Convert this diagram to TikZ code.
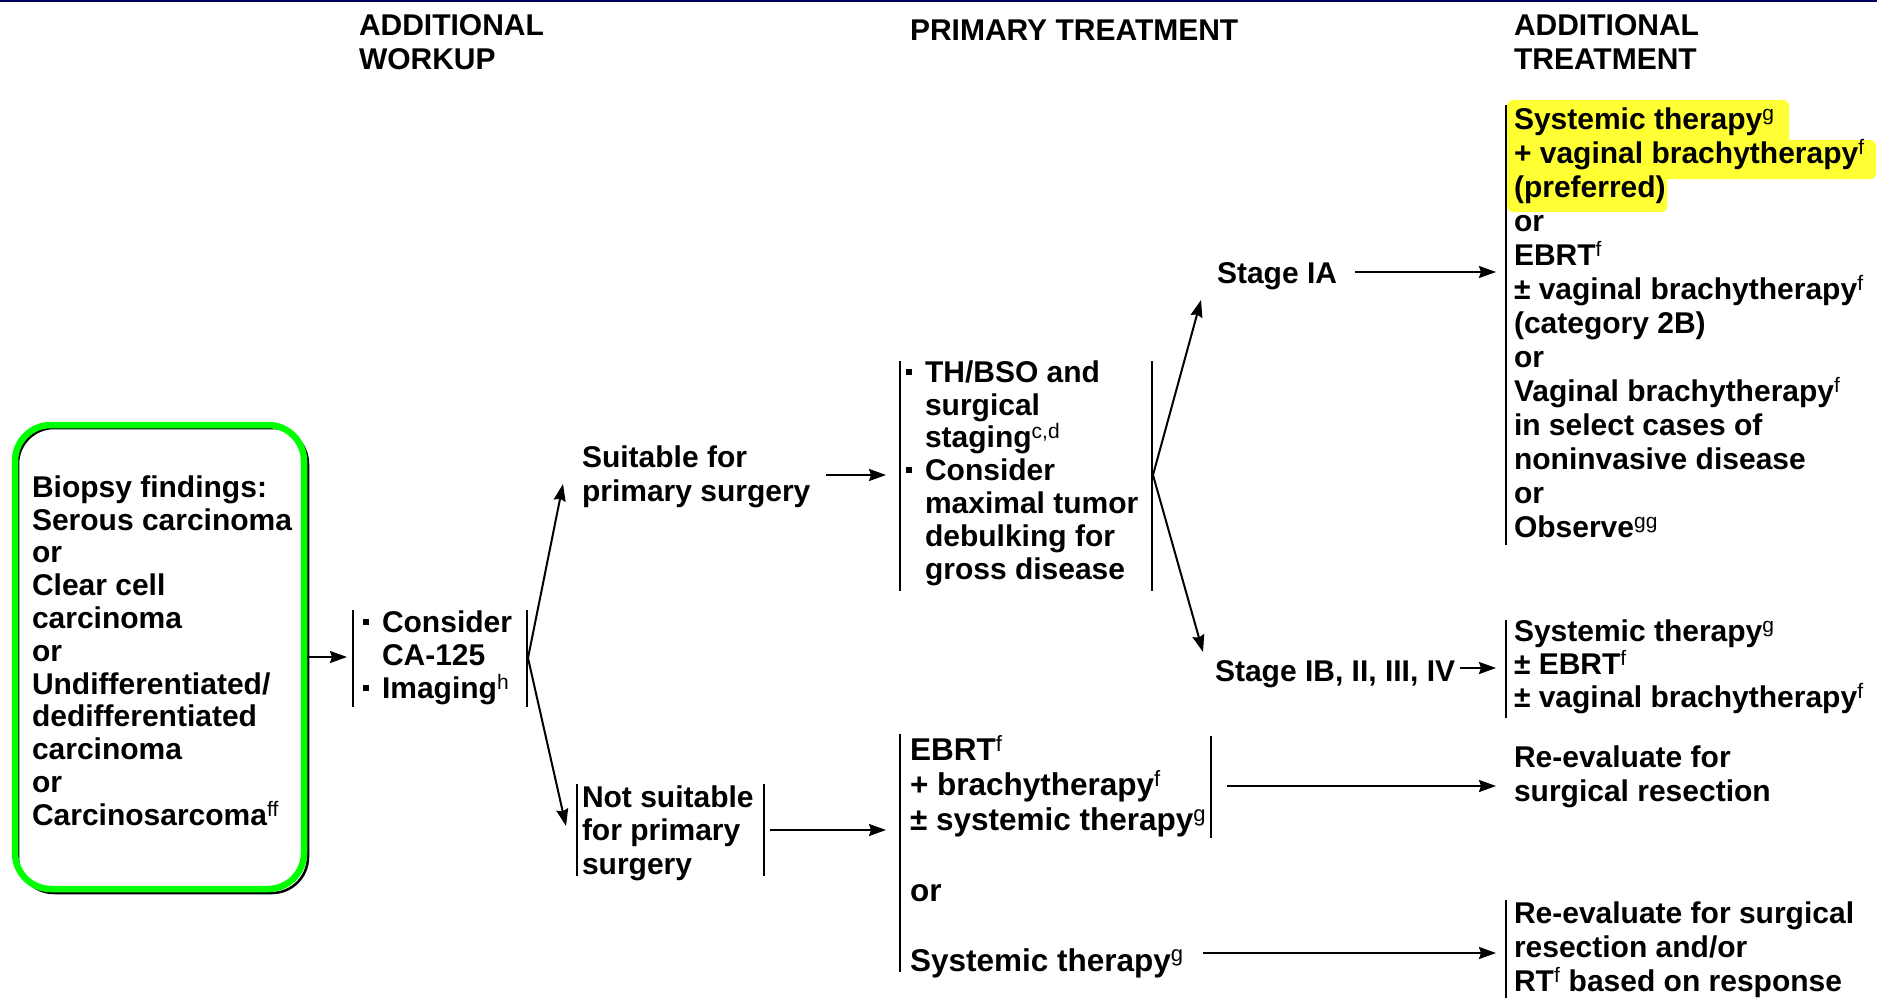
\documentclass[tikz,border=0pt]{standalone}
\usepackage{fontspec}
\setmainfont{Liberation Sans}
\usetikzlibrary{arrows.meta}

\definecolor{topnavy}{RGB}{0,0,96}
\definecolor{boxgreen}{RGB}{0,255,0}
\definecolor{hlyellow}{RGB}{255,255,51}

% square bullet and hanging indent for bulleted lists
\newcommand{\sqb}{\makebox[20pt][l]{\hspace{1pt}\raisebox{7.5pt}{\rule{6pt}{6pt}}}}
\newcommand{\hang}{\makebox[20pt]{}}
\newcommand{\sps}[1]{\textsuperscript{\mdseries #1}}

\tikzset{
  lead/.style={font=\fontsize{30}{#1}\selectfont\bfseries},
  txt/.style={anchor=north west, inner sep=0pt, outer sep=0pt, align=left,
              lead=32.8, execute at begin node=\rule{0pt}{26pt}},
  bigtxt/.style={txt, font=\fontsize{31.5}{35}\selectfont\bfseries,
              execute at begin node=\rule{0pt}{27pt}},
  bar/.style={line width=2pt},
  arr/.style={line width=2pt, -{Stealth[length=17pt,width=12pt,inset=2pt]}},
}

\begin{document}
\begin{tikzpicture}[x=1pt,y=-1pt]
\useasboundingbox (0,0) rectangle (1877,998);
\fill[white] (0,0) rectangle (1877,998);
\draw[topnavy, line width=3pt] (0,1) -- (1877,1);

% column headings
\node[txt, lead=34] (hW) at (359,15) {ADDITIONAL\\WORKUP};
\node[txt] (hP) at (910,15) {PRIMARY TREATMENT};
\node[txt, lead=34] (hT) at (1514,15) {ADDITIONAL\\TREATMENT};

% biopsy findings box
\draw[black, line width=2.5pt, rounded corners=36pt] (18,428) rectangle (308,893);
\node[draw=boxgreen, line width=6.5pt, rounded corners=36pt, inner sep=0pt,
      minimum width=289pt, minimum height=464pt] (biobox) at (159.5,657) {};
\node[txt] (biopsy) at (32,475.5) {Biopsy findings:\\Serous carcinoma\\or\\Clear cell\\carcinoma\\or\\Undifferentiated/\\dedifferentiated\\carcinoma\\or\\Carcinosarcoma\sps{ff}};

% additional workup
\node[txt, lead=33] (workup) at (362,610.5) {\sqb Consider\\\hang CA-125\\\sqb Imaging\sps{h}};
\draw[bar] (353,610) -- (353,707);
\draw[bar] (527,610) -- (527,707);

% suitability
\node[txt, lead=34] (suit) at (582,445.5) {Suitable for\\primary surgery};
\node[txt, lead=33.5] (notsuit) at (582,785.5) {Not suitable\\for primary\\surgery};
\draw[bar] (577,784) -- (577,876);
\draw[bar] (764,784) -- (764,876);

% primary surgery
\node[txt] (prim1) at (905,360.5) {\sqb TH/BSO and\\\hang surgical\\\hang staging\sps{c,d}\\\sqb Consider\\\hang maximal tumor\\\hang debulking for\\\hang gross disease};
\draw[bar] (900,361) -- (900,591);
\draw[bar] (1152,361) -- (1152,591);

% non-surgical primary treatment
\node[bigtxt] (prim2a) at (910,736) {EBRT\sps{f}\\+ brachytherapy\sps{f}\\± systemic therapy\sps{g}};
\node[bigtxt] (prim2or) at (910,874) {or};
\node[bigtxt] (prim2b) at (910,944) {Systemic therapy\sps{g}};
\draw[bar] (900,734) -- (900,972);
\draw[bar] (1211,736) -- (1211,838);

% stages
\node[txt] (stageIA) at (1217,257) {Stage IA};
\node[txt] (stageIB) at (1215,655.5) {Stage IB, II, III, IV};

% additional treatment
\fill[hlyellow, rounded corners=6pt] (1507,100) rectangle (1789,147);
\fill[hlyellow, rounded corners=6pt] (1507,140) rectangle (1876,179);
\fill[hlyellow, rounded corners=6pt] (1507,172) rectangle (1667,212);
\node[txt, lead=34] (addA) at (1514,108) {Systemic therapy\sps{g}\\+ vaginal brachytherapy\sps{f}\\(preferred)\\or\\EBRT\sps{f}\\± vaginal brachytherapy\sps{f}\\(category 2B)\\or\\Vaginal brachytherapy\sps{f}\\in select cases of\\noninvasive disease\\or\\Observe\sps{gg}};
\draw[bar] (1506,105) -- (1506,545);

\node[txt, lead=33] (addB) at (1514,619.5) {Systemic therapy\sps{g}\\± EBRT\sps{f}\\± vaginal brachytherapy\sps{f}};
\draw[bar] (1506,620) -- (1506,718);

\node[txt, lead=34] (reeval1) at (1514,746) {Re-evaluate for\\surgical resection};
\node[txt, lead=34] (reeval2) at (1514,901.5) {Re-evaluate for surgical\\resection and/or\\RT\sps{f} based on response};
\draw[bar] (1506,900) -- (1506,998);

% connector end points
\coordinate (wkIn)   at (347,657);
\coordinate (wkOut)  at (528,658);
\coordinate (suitIn) at (563,484);
\coordinate (notIn)  at (566,826);
\coordinate (suitOut) at (826,475);
\coordinate (p1In)   at (886,475);
\coordinate (p1Out)  at (1153,475);
\coordinate (iaIn)   at (1201,300);
\coordinate (ibIn)   at (1203,652);
\coordinate (iaOut)  at (1355,272);
\coordinate (aIn)    at (1496,272);
\coordinate (ibOut)  at (1460,668);
\coordinate (bIn)    at (1496,668);
\coordinate (notOut) at (770,830);
\coordinate (p2In)   at (886,830);
\coordinate (p2aOut) at (1227,786);
\coordinate (r1In)   at (1496,786);
\coordinate (p2bOut) at (1203,953);
\coordinate (r2In)   at (1496,953);

% connectors
\draw[arr] (biobox.east) -- (wkIn);
\draw[arr] (wkOut) -- (suitIn);
\draw[arr] (wkOut) -- (notIn);
\draw[arr] (suitOut) -- (p1In);
\draw[arr] (notOut) -- (p2In);
\draw[arr] (p1Out) -- (iaIn);
\draw[arr] (p1Out) -- (ibIn);
\draw[arr] (iaOut) -- (aIn);
\draw[arr] (ibOut) -- (bIn);
\draw[arr] (p2aOut) -- (r1In);
\draw[arr] (p2bOut) -- (r2In);
\end{tikzpicture}
\end{document}
